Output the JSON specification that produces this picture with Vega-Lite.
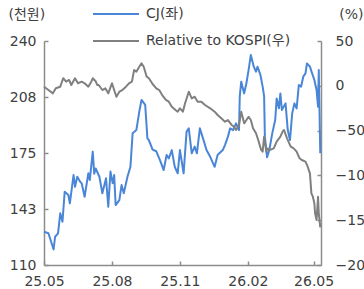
{
  "$schema": "https://vega.github.io/schema/vega-lite/v6.json",
  "width": 277,
  "height": 224,
  "autosize": {"type": "none"},
  "padding": {"left": 44, "top": 41, "right": 43, "bottom": 24},
  "background": "white",
  "config": {
    "view": {"stroke": null},
    "font": "DejaVu Sans, Noto Sans CJK KR",
    "axis": {
      "grid": false,
      "domainColor": "#8c8c8c",
      "domainWidth": 1.5,
      "tickColor": "#8c8c8c",
      "tickWidth": 1.5,
      "tickSize": -4,
      "labelFont": "DejaVu Sans, Noto Sans CJK KR",
      "labelFontSize": 14,
      "labelColor": "#404040",
      "titleFont": "DejaVu Sans, Noto Sans CJK KR",
      "titleFontSize": 14,
      "titleFontWeight": "normal",
      "titleColor": "#404040"
    },
    "legend": {
      "labelFont": "DejaVu Sans, Noto Sans CJK KR",
      "labelFontSize": 14,
      "labelColor": "#404040",
      "padding": 0
    }
  },
  "layer": [
    {
      "data": {"values": [
        {"d": "2025-05-01", "v": 129.3}, {"d": "2025-05-07", "v": 128.4}, {"d": "2025-05-14", "v": 119}, {"d": "2025-05-16", "v": 126.4},
        {"d": "2025-05-20", "v": 128.4}, {"d": "2025-05-23", "v": 140}, {"d": "2025-05-26", "v": 135.1}, {"d": "2025-05-29", "v": 152.5},
        {"d": "2025-06-03", "v": 150.6}, {"d": "2025-06-05", "v": 145.8}, {"d": "2025-06-10", "v": 162.2}, {"d": "2025-06-12", "v": 155.4},
        {"d": "2025-06-15", "v": 161.2}, {"d": "2025-06-19", "v": 158.3}, {"d": "2025-06-21", "v": 157.4}, {"d": "2025-06-25", "v": 149.6},
        {"d": "2025-06-30", "v": 163.2}, {"d": "2025-07-02", "v": 159.3}, {"d": "2025-07-06", "v": 175.8}, {"d": "2025-07-08", "v": 163},
        {"d": "2025-07-10", "v": 166}, {"d": "2025-07-15", "v": 161.2}, {"d": "2025-07-19", "v": 151.6}, {"d": "2025-07-24", "v": 160.3},
        {"d": "2025-07-27", "v": 143.8}, {"d": "2025-07-30", "v": 164.2}, {"d": "2025-08-02", "v": 157.4}, {"d": "2025-08-04", "v": 162.2},
        {"d": "2025-08-06", "v": 144.8}, {"d": "2025-08-11", "v": 147.7}, {"d": "2025-08-14", "v": 156.4}, {"d": "2025-08-17", "v": 151.6},
        {"d": "2025-08-22", "v": 161.2}, {"d": "2025-08-26", "v": 167}, {"d": "2025-08-29", "v": 186.4}, {"d": "2025-09-03", "v": 188.3},
        {"d": "2025-09-07", "v": 199}, {"d": "2025-09-10", "v": 205.8}, {"d": "2025-09-15", "v": 202.9}, {"d": "2025-09-18", "v": 183.5},
        {"d": "2025-09-20", "v": 182.5}, {"d": "2025-09-25", "v": 177}, {"d": "2025-09-30", "v": 176}, {"d": "2025-10-05", "v": 170.9},
        {"d": "2025-10-10", "v": 165.1}, {"d": "2025-10-14", "v": 173.8}, {"d": "2025-10-17", "v": 171.9}, {"d": "2025-10-21", "v": 176.7},
        {"d": "2025-10-25", "v": 167}, {"d": "2025-10-29", "v": 163.2}, {"d": "2025-11-01", "v": 176.7}, {"d": "2025-11-06", "v": 163.2},
        {"d": "2025-11-10", "v": 187.4}, {"d": "2025-11-13", "v": 189.3}, {"d": "2025-11-17", "v": 174.8}, {"d": "2025-11-21", "v": 178.7},
        {"d": "2025-11-24", "v": 174.8}, {"d": "2025-11-28", "v": 189.3}, {"d": "2025-12-03", "v": 182.5}, {"d": "2025-12-07", "v": 176.7},
        {"d": "2025-12-12", "v": 172.8}, {"d": "2025-12-18", "v": 167}, {"d": "2025-12-22", "v": 173.8}, {"d": "2025-12-29", "v": 176.7},
        {"d": "2026-01-01", "v": 179.6}, {"d": "2026-01-05", "v": 184.5}, {"d": "2026-01-08", "v": 189.3}, {"d": "2026-01-12", "v": 188.3},
        {"d": "2026-01-16", "v": 192.2}, {"d": "2026-01-20", "v": 188.3}, {"d": "2026-01-21", "v": 207.7}, {"d": "2026-01-23", "v": 216.4},
        {"d": "2026-01-27", "v": 209.6}, {"d": "2026-01-30", "v": 215.5}, {"d": "2026-02-02", "v": 223.2}, {"d": "2026-02-05", "v": 231.9},
        {"d": "2026-02-09", "v": 225.1}, {"d": "2026-02-12", "v": 222.2}, {"d": "2026-02-14", "v": 225.1}, {"d": "2026-02-18", "v": 220.3},
        {"d": "2026-02-21", "v": 213.5}, {"d": "2026-02-23", "v": 208}, {"d": "2026-02-24", "v": 184.5}, {"d": "2026-02-27", "v": 172.5},
        {"d": "2026-03-02", "v": 176.7}, {"d": "2026-03-06", "v": 186.4}, {"d": "2026-03-10", "v": 194.1}, {"d": "2026-03-12", "v": 206.7},
        {"d": "2026-03-15", "v": 200.9}, {"d": "2026-03-17", "v": 209.6}, {"d": "2026-03-19", "v": 200}, {"d": "2026-03-24", "v": 203.8},
        {"d": "2026-03-27", "v": 188.3}, {"d": "2026-03-30", "v": 182.5}, {"d": "2026-04-02", "v": 198}, {"d": "2026-04-05", "v": 203.8},
        {"d": "2026-04-08", "v": 200.9}, {"d": "2026-04-11", "v": 214.5}, {"d": "2026-04-14", "v": 213.5}, {"d": "2026-04-17", "v": 219.3},
        {"d": "2026-04-20", "v": 221.2}, {"d": "2026-04-22", "v": 227}, {"d": "2026-04-26", "v": 225.1}, {"d": "2026-04-29", "v": 221.2},
        {"d": "2026-05-02", "v": 217.4}, {"d": "2026-05-05", "v": 211.6}, {"d": "2026-05-07", "v": 201.9}, {"d": "2026-05-08", "v": 223.2},
        {"d": "2026-05-10", "v": 174.8}
      ]},
      "mark": {"type": "line", "strokeWidth": 2, "strokeJoin": "round"},
      "encoding": {
        "x": {
          "field": "d", "type": "temporal",
          "scale": {"type": "utc", "domain": [{"year": 2025, "month": 5, "date": 1, "utc": true}, {"year": 2026, "month": 5, "date": 11, "utc": true}]},
          "axis": {
            "title": null, "format": "%y.%m", "labelFlush": false, "labelPadding": 13,
            "values": [
              {"year": 2025, "month": 5, "date": 1, "utc": true},
              {"year": 2025, "month": 8, "date": 1, "utc": true},
              {"year": 2025, "month": 11, "date": 1, "utc": true},
              {"year": 2026, "month": 2, "date": 1, "utc": true},
              {"year": 2026, "month": 5, "date": 1, "utc": true}
            ]
          }
        },
        "y": {
          "field": "v", "type": "quantitative",
          "scale": {"domain": [110, 240], "nice": false, "zero": false},
          "axis": {
            "values": [110, 142.5, 175, 207.5, 240], "format": ".0f", "labelPadding": 12,
            "title": "(천원)", "titleAngle": 0, "titleX": -36, "titleY": -27,
            "titleAlign": "left", "titleBaseline": "middle"
          }
        },
        "color": {
          "datum": "CJ(좌)",
          "scale": {"domain": ["CJ(좌)", "Relative to KOSPI(우)"], "range": ["#4a86d8", "#808080"]},
          "legend": {
            "title": null, "orient": "none", "legendX": 48, "legendY": -34,
            "direction": "vertical", "symbolType": "stroke", "symbolSize": 2116,
            "symbolStrokeWidth": 2, "clipHeight": 14, "rowPadding": 13,
            "labelOffset": 6, "symbolOffset": 0
          }
        }
      }
    },
    {
      "data": {"values": [
        {"d": "2025-05-01", "v": -1}, {"d": "2025-05-07", "v": -4.7}, {"d": "2025-05-13", "v": -8.4}, {"d": "2025-05-17", "v": -2.8},
        {"d": "2025-05-23", "v": -1}, {"d": "2025-05-27", "v": 8.4}, {"d": "2025-05-31", "v": 4.6}, {"d": "2025-06-04", "v": 6.5},
        {"d": "2025-06-07", "v": 0.9}, {"d": "2025-06-12", "v": 8.4}, {"d": "2025-06-16", "v": 2.8}, {"d": "2025-06-21", "v": 4.6},
        {"d": "2025-06-25", "v": 2.8}, {"d": "2025-06-30", "v": -1}, {"d": "2025-07-04", "v": 4.6}, {"d": "2025-07-06", "v": 8.4},
        {"d": "2025-07-10", "v": 5}, {"d": "2025-07-12", "v": 0.9}, {"d": "2025-07-14", "v": 0.9}, {"d": "2025-07-19", "v": -4.7},
        {"d": "2025-07-23", "v": -2.8}, {"d": "2025-07-27", "v": -8.4}, {"d": "2025-08-01", "v": 2.8}, {"d": "2025-08-04", "v": -4.7},
        {"d": "2025-08-07", "v": -12.2}, {"d": "2025-08-11", "v": -6.6}, {"d": "2025-08-15", "v": -4.7}, {"d": "2025-08-20", "v": -1},
        {"d": "2025-08-24", "v": 2.8}, {"d": "2025-08-28", "v": 4.6}, {"d": "2025-08-31", "v": 17.6}, {"d": "2025-09-03", "v": 15.7},
        {"d": "2025-09-07", "v": 21.3}, {"d": "2025-09-10", "v": 25.1}, {"d": "2025-09-13", "v": 21.3}, {"d": "2025-09-17", "v": 10.2},
        {"d": "2025-09-20", "v": 8.4}, {"d": "2025-09-25", "v": 2}, {"d": "2025-09-30", "v": -2.8}, {"d": "2025-10-04", "v": -4.7},
        {"d": "2025-10-08", "v": -10.3}, {"d": "2025-10-13", "v": -15.8}, {"d": "2025-10-17", "v": -17.7}, {"d": "2025-10-21", "v": -23.3},
        {"d": "2025-10-26", "v": -27}, {"d": "2025-10-29", "v": -28.9}, {"d": "2025-11-01", "v": -25.1}, {"d": "2025-11-05", "v": -28.9},
        {"d": "2025-11-08", "v": -19.5}, {"d": "2025-11-13", "v": -6.6}, {"d": "2025-11-17", "v": -14}, {"d": "2025-11-21", "v": -12.2},
        {"d": "2025-11-25", "v": -17.7}, {"d": "2025-11-30", "v": -17.7}, {"d": "2025-12-05", "v": -21.4}, {"d": "2025-12-12", "v": -25.1},
        {"d": "2025-12-18", "v": -28.9}, {"d": "2025-12-22", "v": -32.6}, {"d": "2025-12-27", "v": -36.3}, {"d": "2026-01-01", "v": -40.1},
        {"d": "2026-01-05", "v": -38.2}, {"d": "2026-01-10", "v": -43.7}, {"d": "2026-01-13", "v": -45.6}, {"d": "2026-01-16", "v": -49.3},
        {"d": "2026-01-20", "v": -43.7}, {"d": "2026-01-23", "v": -28.9}, {"d": "2026-01-27", "v": -41.9}, {"d": "2026-01-30", "v": -38.2},
        {"d": "2026-02-02", "v": -34.5}, {"d": "2026-02-05", "v": -38.2}, {"d": "2026-02-08", "v": -47.4}, {"d": "2026-02-12", "v": -53},
        {"d": "2026-02-15", "v": -60.5}, {"d": "2026-02-19", "v": -71.6}, {"d": "2026-02-21", "v": -73.5}, {"d": "2026-02-23", "v": -56.8},
        {"d": "2026-02-26", "v": -73.5}, {"d": "2026-02-27", "v": -69.8}, {"d": "2026-03-03", "v": -71.6}, {"d": "2026-03-08", "v": -69.8},
        {"d": "2026-03-12", "v": -62.4}, {"d": "2026-03-17", "v": -56.8}, {"d": "2026-03-20", "v": -51.2}, {"d": "2026-03-22", "v": -49.3},
        {"d": "2026-03-26", "v": -58.6}, {"d": "2026-03-31", "v": -67.9}, {"d": "2026-04-04", "v": -69.8}, {"d": "2026-04-08", "v": -73.5},
        {"d": "2026-04-12", "v": -80.9}, {"d": "2026-04-15", "v": -82.8}, {"d": "2026-04-20", "v": -84.7}, {"d": "2026-04-23", "v": -90.3},
        {"d": "2026-04-26", "v": -97.7}, {"d": "2026-04-28", "v": -120}, {"d": "2026-04-30", "v": -123.8}, {"d": "2026-05-02", "v": -131.1},
        {"d": "2026-05-03", "v": -142.3}, {"d": "2026-05-05", "v": -149.8}, {"d": "2026-05-07", "v": -123.8}, {"d": "2026-05-08", "v": -142.3},
        {"d": "2026-05-10", "v": -158}
      ]},
      "mark": {"type": "line", "strokeWidth": 2, "strokeJoin": "round"},
      "encoding": {
        "x": {"field": "d", "type": "temporal"},
        "y": {
          "field": "v", "type": "quantitative",
          "scale": {"domain": [-200, 50], "nice": false, "zero": false},
          "axis": {
            "orient": "right", "values": [-200, -150, -100, -50, 0, 50], "labelPadding": 18,
            "title": "(%)", "titleAngle": 0, "titleX": 42, "titleY": -27,
            "titleAlign": "right", "titleBaseline": "middle"
          }
        },
        "color": {"datum": "Relative to KOSPI(우)"}
      }
    }
  ],
  "resolve": {"scale": {"y": "independent"}}
}
